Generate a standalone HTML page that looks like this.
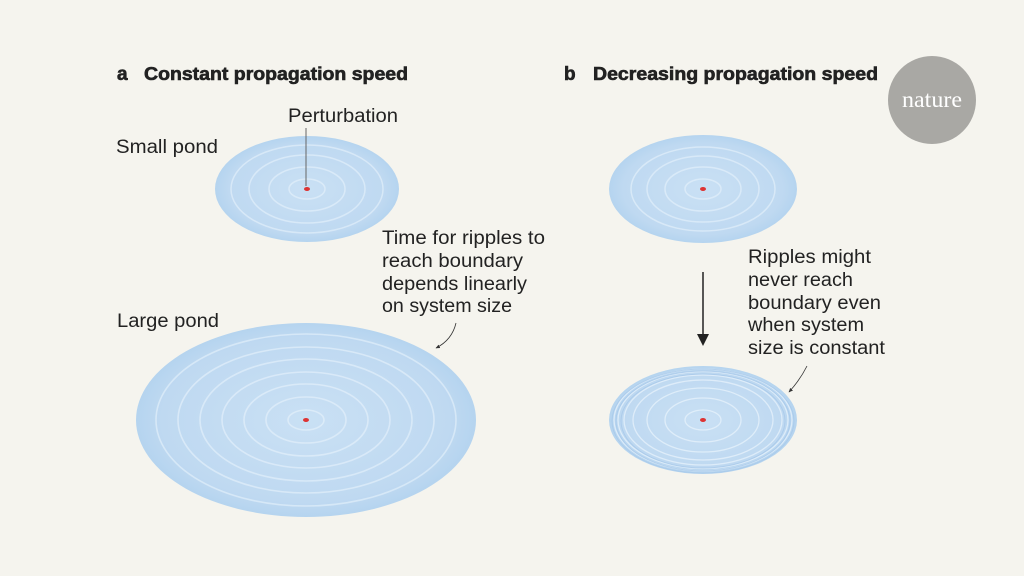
<!DOCTYPE html>
<html><head><meta charset="utf-8"><style>
html,body{margin:0;padding:0;background:#f5f4ee;}
svg{display:block}
text{font-family:"Liberation Sans",sans-serif;fill:#222;}
</style></head><body>
<svg width="1024" height="576" viewBox="0 0 1024 576" xmlns="http://www.w3.org/2000/svg">
<defs>
<radialGradient id="g" cx="50%" cy="50%" r="50%">
<stop offset="0" stop-color="#c9e0f4"/><stop offset="0.85" stop-color="#bfd9f1"/><stop offset="1" stop-color="#b5d4ef"/>
</radialGradient>
<marker id="ah" viewBox="0 0 10 10" refX="8" refY="5" markerWidth="6" markerHeight="6" orient="auto"><path d="M0,1 L9,5 L0,9 z" fill="#333"/></marker>
</defs>
<rect width="1024" height="576" fill="#f5f4ee"/>

<g style="stroke:#222;stroke-width:0.6">
<text x="117" y="80" font-size="19" font-weight="bold">a</text>
<text x="144" y="80" font-size="18" font-weight="bold" textLength="264" lengthAdjust="spacingAndGlyphs">Constant propagation speed</text>
<text x="564" y="80" font-size="19" font-weight="bold">b</text>
<text x="593" y="80" font-size="18" font-weight="bold" textLength="285" lengthAdjust="spacingAndGlyphs">Decreasing propagation speed</text>
</g>

<circle cx="932" cy="100" r="44" fill="#a9a8a4"/>
<text x="932" y="107" font-size="23" text-anchor="middle" textLength="60" lengthAdjust="spacingAndGlyphs" style="font-family:'Liberation Serif',serif;fill:#fff">nature</text>

<!-- small pond a -->
<ellipse cx="307" cy="189" rx="92" ry="53" fill="url(#g)"/>
<g fill="none" stroke="#e8f3fc" stroke-width="1.5" opacity="0.6">
<ellipse cx="307" cy="189" rx="18" ry="10"/>
<ellipse cx="307" cy="189" rx="38" ry="22"/>
<ellipse cx="307" cy="189" rx="58" ry="34"/>
<ellipse cx="307" cy="189" rx="76" ry="44"/>
</g>
<ellipse cx="307" cy="189" rx="3" ry="2" fill="#d33"/>
<line x1="306" y1="128" x2="306" y2="186" stroke="#666" stroke-width="1"/>
<text x="288" y="122" font-size="19" textLength="110" lengthAdjust="spacingAndGlyphs">Perturbation</text>
<text x="116" y="153" font-size="19" textLength="102" lengthAdjust="spacingAndGlyphs">Small pond</text>

<!-- large pond -->
<ellipse cx="306" cy="420" rx="170" ry="97" fill="url(#g)"/>
<g fill="none" stroke="#e8f3fc" stroke-width="1.6" opacity="0.6">
<ellipse cx="306" cy="420" rx="18" ry="10"/>
<ellipse cx="306" cy="420" rx="40" ry="23"/>
<ellipse cx="306" cy="420" rx="62" ry="36"/>
<ellipse cx="306" cy="420" rx="84" ry="48"/>
<ellipse cx="306" cy="420" rx="106" ry="61"/>
<ellipse cx="306" cy="420" rx="128" ry="73"/>
<ellipse cx="306" cy="420" rx="150" ry="86"/>
</g>
<ellipse cx="306" cy="420" rx="3" ry="2" fill="#d33"/>
<text x="117" y="327" font-size="19" textLength="102" lengthAdjust="spacingAndGlyphs">Large pond</text>
<text x="382" y="244" font-size="19" textLength="163" lengthAdjust="spacingAndGlyphs">Time for ripples to</text>
<text x="382" y="267" font-size="19" textLength="141" lengthAdjust="spacingAndGlyphs">reach boundary</text>
<text x="382" y="290" font-size="19" textLength="145" lengthAdjust="spacingAndGlyphs">depends linearly</text>
<text x="382" y="312" font-size="19" textLength="130" lengthAdjust="spacingAndGlyphs">on system size</text>
<path d="M456,323 Q452,340 436,348" fill="none" stroke="#333" stroke-width="0.8" marker-end="url(#ah)"/>

<!-- b small -->
<ellipse cx="703" cy="189" rx="94" ry="54" fill="url(#g)"/>
<g fill="none" stroke="#e8f3fc" stroke-width="1.5" opacity="0.6">
<ellipse cx="703" cy="189" rx="18" ry="10"/>
<ellipse cx="703" cy="189" rx="38" ry="22"/>
<ellipse cx="703" cy="189" rx="56" ry="33"/>
<ellipse cx="703" cy="189" rx="72" ry="42"/>
</g>
<ellipse cx="703" cy="189" rx="3" ry="2" fill="#d33"/>

<line x1="703" y1="272" x2="703" y2="344" stroke="#222" stroke-width="1.5"/>
<path d="M697,334 L703,346 L709,334 z" fill="#222"/>

<text x="748" y="263" font-size="19" textLength="123" lengthAdjust="spacingAndGlyphs">Ripples might</text>
<text x="748" y="286" font-size="19" textLength="105" lengthAdjust="spacingAndGlyphs">never reach</text>
<text x="748" y="309" font-size="19" textLength="133" lengthAdjust="spacingAndGlyphs">boundary even</text>
<text x="748" y="331" font-size="19" textLength="116" lengthAdjust="spacingAndGlyphs">when system</text>
<text x="748" y="354" font-size="19" textLength="137" lengthAdjust="spacingAndGlyphs">size is constant</text>
<path d="M807,366 Q800,380 789,392" fill="none" stroke="#333" stroke-width="0.8" marker-end="url(#ah)"/>

<!-- b bottom -->
<ellipse cx="703" cy="420" rx="94" ry="54" fill="url(#g)"/>
<g fill="none" stroke="#e8f3fc" stroke-width="1.3" opacity="0.75">
<ellipse cx="703" cy="420" rx="18" ry="10"/>
<ellipse cx="703" cy="420" rx="38" ry="22"/>
<ellipse cx="703" cy="420" rx="56" ry="32"/>
<ellipse cx="703" cy="420" rx="70" ry="40"/>
<ellipse cx="703" cy="420" rx="79" ry="45"/>
<ellipse cx="703" cy="420" rx="85" ry="48.5"/>
<ellipse cx="703" cy="420" rx="89" ry="51"/>
</g>
<g fill="none" stroke="#a8c9ea" stroke-width="1" opacity="0.8">
<ellipse cx="703" cy="421" rx="82" ry="47"/>
<ellipse cx="703" cy="421" rx="87" ry="50"/>
<ellipse cx="703" cy="421" rx="91" ry="52"/>
</g>
<ellipse cx="703" cy="420" rx="3" ry="2" fill="#d33"/>
</svg>
</body></html>
